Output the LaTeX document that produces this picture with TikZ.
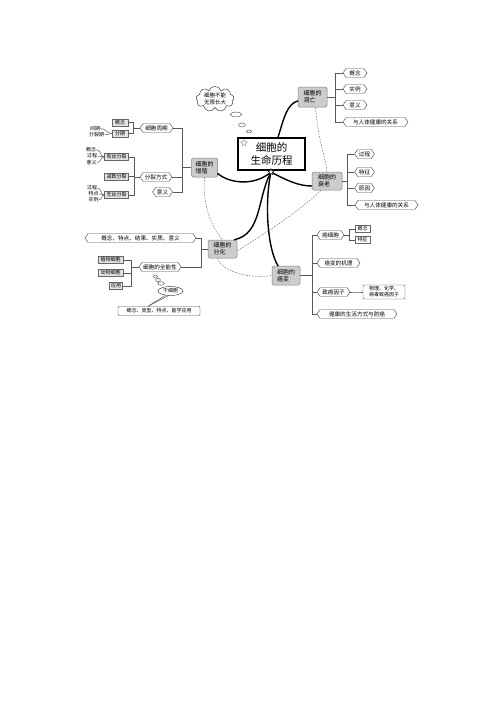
\documentclass[tikz,border=0pt]{standalone}
\usepackage{fontspec}
\setmainfont{Noto Sans CJK SC}
\usetikzlibrary{shapes.geometric,shapes.symbols,shapes.misc}
\begin{document}
\begin{tikzpicture}[x=1pt,y=-1pt,
  main/.style={draw=black!50, fill=black!20, rounded corners=1.5pt, line width=0.5pt, align=left, inner sep=1pt, font=\fontsize{6}{7.2}\selectfont},
  tag/.style={signal, signal to=east and west, signal pointer angle=110, draw=black!70, fill=white, line width=0.45pt, inner xsep=1.2pt, inner ysep=0.8pt, minimum height=9pt, font=\fontsize{5.6}{6.5}\selectfont},
  box/.style={rectangle, draw=black!60, fill=black!10, line width=0.4pt, inner xsep=1.2pt, inner ysep=0.6pt, minimum height=7pt, font=\fontsize{5}{6}\selectfont},
  note/.style={inner sep=0.3pt, font=\fontsize{5}{6}\selectfont},
  link/.style={draw=black!65, line width=0.5pt},
  brush/.style={line width=1.4pt, line cap=round},
  dashlink/.style={draw=black!60, dash pattern=on 1.6pt off 1.3pt, line width=0.45pt},
  bubble/.style={ellipse, draw=black!75, line width=0.4pt, fill=white, inner sep=0pt}
]
\fill[white] (0,0) rectangle (500,707);
\useasboundingbox (0,0) rectangle (500,707);

% central box
\node[draw, line width=1.3pt, fill=white, minimum width=67pt, minimum height=32pt, align=center, inner sep=1pt, font=\fontsize{10.5}{13}\selectfont] (core) at (271.5,154) {细胞的\\生命历程};
\node[star, star points=5, star point ratio=2.2, draw=black!45, line width=0.4pt, fill=white, minimum size=7pt, inner sep=0pt] (corestar) at (244,143) {};
\coordinate (root) at (271,172);

% main nodes
\node[main, minimum width=29pt, minimum height=20pt] (apop) at (312.5,97) {细胞的\\凋亡};
\node[main, minimum width=30pt, minimum height=18pt] (aging) at (327,181) {细胞的\\衰老};
\node[main, minimum width=26pt, minimum height=19pt] (prolif) at (204.5,167.5) {细胞的\\增殖};
\node[main, minimum width=29pt, minimum height=18pt] (diff) at (222.5,249) {细胞的\\分化};
\node[main, minimum width=28pt, minimum height=19pt] (cancer) at (286,275.5) {细胞的\\癌变};

% thick brush connectors
\draw[brush] ([xshift=6.5pt]core.north) .. controls (284,118) and (287,104) .. ([yshift=-4pt]apop.west);
\draw[brush] (root) .. controls (255,186) and (230,184) .. ([yshift=-6pt]prolif.east);
\draw[brush] (root) .. controls (286,180) and (298,186) .. ([yshift=-5pt]aging.west);
\draw[brush] (root) .. controls (257,198) and (262,234) .. ([xshift=-3pt]diff.north east);
\draw[brush] (root) .. controls (264,205) and (268,250) .. ([xshift=-8pt]cancer.north);
\node[star, star points=5, star point ratio=2.2, draw=black, line width=0.4pt, fill=white, minimum size=6.5pt, inner sep=0pt] (rootstar) at (root) {};

% dashed relations
\draw[dashlink] ([xshift=3pt]apop.south) .. controls (318,140) and (325,155) .. (aging.north);
\draw[dashlink] (prolif.south) .. controls (202,205) and (212,228) .. (diff.north);
\draw[dashlink] ([xshift=-6pt]aging.south) .. controls (295,215) and (262,235) .. ([yshift=-2pt]diff.east);
\draw[dashlink] ([xshift=-5pt]diff.south) .. controls (222,272) and (250,279) .. (cancer.west);

% thought cloud
\node[cloud, cloud puffs=9, aspect=1.7, draw=black!80, line width=0.45pt, fill=white, minimum width=38pt, minimum height=25pt, inner sep=0pt, align=center, font=\fontsize{5.5}{6.6}\selectfont] (thought) at (215,99) {细胞不能\\无限长大};
\node[bubble, minimum width=11pt, minimum height=5pt] (tb0) at (236,114.5) {};
\node[bubble, minimum width=7pt, minimum height=4pt] (tb1) at (242,125) {};
\node[bubble, minimum width=5pt, minimum height=3pt] (tb2) at (249,131.5) {};

% apoptosis branch
\coordinate (s1) at (335,97);
\node[tag, minimum width=24pt] (a1) at (355,73) {概念};
\node[tag, minimum width=24pt] (a2) at (355,89) {实例};
\node[tag, minimum width=24pt] (a3) at (355,105) {意义};
\node[tag, minimum width=65pt] (a4) at (375.5,122) {与人体健康的关系};
\draw[link] (apop.east) -- (s1);
\foreach \t in {a1,a2,a3,a4} \draw[link] (s1) |- (\t.west);

% aging branch
\coordinate (s2) at (347,181);
\node[tag, minimum width=19pt] (b1) at (364.5,154) {过程};
\node[tag, minimum width=19pt] (b2) at (364.5,172) {特征};
\node[tag, minimum width=19pt] (b3) at (364.5,188) {原因};
\node[tag, minimum width=63pt] (b4) at (386.5,205) {与人体健康的关系};
\draw[link] (aging.east) -- (s2);
\foreach \t in {b1,b2,b3,b4} \draw[link] (s2) |- (\t.west);

% proliferation branch
\coordinate (s3) at (182,167.5);
\node[tag, minimum width=33pt] (z1) at (156.5,128) {细胞周期};
\node[tag, minimum width=32pt] (z2) at (156,177) {分裂方式};
\node[tag, minimum width=19pt] (z3) at (162.5,192) {意义};
\draw[link] (prolif.west) -- (s3);
\foreach \t in {z1,z2,z3} \draw[link] (s3) |- (\t.east);

\coordinate (s4) at (133,128);
\node[box, minimum width=16pt] (g1) at (120,122.5) {概念};
\node[box, minimum width=16pt] (g2) at (120,133.5) {分期};
\draw[link] (z1.west) -- (s4);
\foreach \t in {g1,g2} \draw[link] (s4) |- (\t.east);
\node[note] (t1) at (95,128.5) {间期};
\node[note] (t2) at (96.5,135) {分裂期};
\draw[link] (t1.east) to[out=0,in=180] (g2.west);
\draw[link] (t2.east) -- (g2.west);

\coordinate (s5) at (134,177);
\node[box, minimum width=24pt] (m1) at (116.5,157) {有丝分裂};
\node[box, minimum width=24pt] (m2) at (116.5,176.5) {减数分裂};
\node[box, minimum width=24pt] (m3) at (116.5,195) {无丝分裂};
\draw[link] (z2.west) -- (s5);
\foreach \t in {m1,m2,m3} \draw[link] (s5) |- (\t.east);
\node[note] (k1) at (91,149.5) {概念};
\node[note] (k2) at (92,156) {过程};
\node[note] (k3) at (91.5,162.5) {意义};
\foreach \t in {k1,k2,k3} \draw[link] (m1.west) to[out=180,in=0] (\t.east);
\node[note] (n1) at (92,188) {过程};
\node[note] (n2) at (93.5,194) {特点};
\node[note] (n3) at (93.5,200) {实例};
\foreach \t in {n1,n2,n3} \draw[link] (m3.west) to[out=180,in=0] (\t.east);

% differentiation branch
\coordinate (s6) at (201,249);
\node[tag, minimum width=111pt] (f1) at (140.5,238) {概念、特点、结果、实质、意义};
\node[tag, minimum width=40pt] (f2) at (160,267) {细胞的全能性};
\draw[link] (diff.west) -- (s6);
\foreach \t in {f1,f2} \draw[link] (s6) |- (\t.east);

\coordinate (s7) at (131,267);
\node[box, minimum width=25pt] (q1) at (110.5,260) {植物细胞};
\node[box, minimum width=25pt] (q2) at (110.5,273) {动物细胞};
\node[box, minimum width=13pt] (q3) at (116,286) {应用};
\draw[link] (f2.west) -- (s7);
\foreach \t in {q1,q2,q3} \draw[link] (s7) |- (\t.east);

\node[bubble, minimum width=4pt, minimum height=3pt] (sb1) at (155.5,276.5) {};
\node[bubble, minimum width=5pt, minimum height=3pt] (sb2) at (158,280) {};
\node[bubble, minimum width=6.5pt, minimum height=3.5pt] (sb3) at (161,283.5) {};
\node[ellipse, draw=black!80, line width=0.45pt, fill=white, minimum width=25pt, minimum height=9pt, inner sep=0pt, font=\fontsize{5}{6}\selectfont] (stem) at (170.5,291) {干细胞};
\node[rectangle, rounded corners=1pt, draw=black!70, line width=0.45pt, fill=white, minimum width=82pt, minimum height=9pt, inner sep=0.8pt, font=\fontsize{5}{6}\selectfont] (stemapp) at (159,311) {概念、类型、特点、医学应用};
\coordinate (tip) at ([xshift=-11pt]stemapp.north);
\draw[link] (tip) -- (stem.220);
\draw[link] (tip) -- (stem.245);

% cancer branch
\coordinate (s8) at (312,275.5);
\node[tag, minimum width=27pt] (c1) at (330.5,235) {癌细胞};
\node[tag, minimum width=43pt] (c2) at (338.5,263) {癌变的机理};
\node[tag, minimum width=33pt] (c3) at (333.5,292) {致癌因子};
\node[tag, minimum width=80pt] (c4) at (357,314) {健康的生活方式与防癌};
\draw[link] (cancer.east) -- (s8);
\foreach \t in {c1,c2,c3,c4} \draw[link] (s8) |- (\t.west);

\coordinate (s9) at (349,235);
\node[box, fill=white, minimum width=15pt] (d1) at (362.5,229) {概念};
\node[box, fill=white, minimum width=15pt] (d2) at (362.5,240) {特征};
\draw[link] (c1.east) -- (s9);
\foreach \t in {d1,d2} \draw[link] (s9) |- (\t.west);
\node[rectangle, rounded corners=1pt, draw=black!70, line width=0.45pt, fill=white, minimum width=42pt, minimum height=14pt, inner sep=0.6pt, align=center, font=\fontsize{5}{6}\selectfont] (c3x) at (384,292) {物理、化学、\\病毒致癌因子};
\draw[link] (c3.east) to[out=0,in=180] (c3x.west);
\end{tikzpicture}
\end{document}
